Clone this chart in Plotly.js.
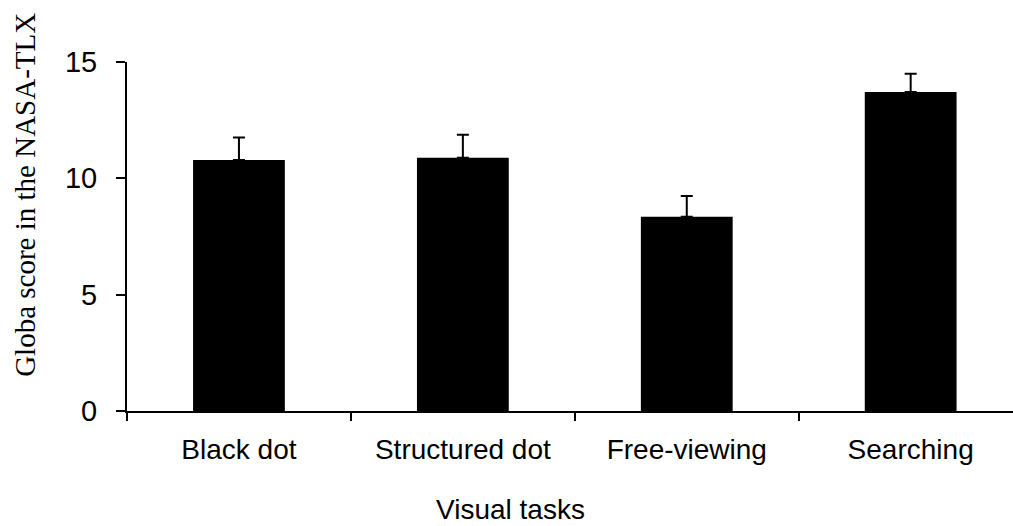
<!DOCTYPE html>
<html>
<head>
<meta charset="utf-8">
<script src="https://cdn.plot.ly/plotly-3.0.1.min.js"></script>
<style>html,body{margin:0;padding:0;background:#fff;}#chart{width:1013px;height:526px;}</style>
</head>
<body>
<div id="chart"></div>
<script>
const categories = ["Black dot", "Structured dot", "Free-viewing", "Searching"];
const meanScores = [10.79, 10.89, 8.35, 13.71];
const errorUpper = [0.96, 0.98, 0.89, 0.78];
const errorLower = [0, 0, 0, 0];
const yTickValues = [0, 5, 10, 15];
const yTitle = "Globa score in the NASA-TLX";
const xTitle = "Visual tasks";

const trace = {
  type: "bar",
  x: categories,
  y: meanScores,
  width: 0.41,
  marker: {color: "#000000", line: {width: 0}},
  error_y: {
    type: "data",
    symmetric: false,
    array: errorUpper,
    arrayminus: errorLower,
    color: "#000000",
    thickness: 2,
    width: 6
  },
  hoverinfo: "none"
};

const layout = {
  width: 1013,
  height: 526,
  autosize: false,
  margin: {l: 127, r: 0, t: 62, b: 115},
  paper_bgcolor: "#ffffff",
  plot_bgcolor: "#ffffff",
  showlegend: false,
  font: {family: "Liberation Sans, Arial, sans-serif", color: "#000000", size: 28},
  xaxis: {
    type: "category",
    range: [-0.5, 3.457],
    showline: true,
    linecolor: "#000000",
    linewidth: 2,
    ticks: "outside",
    tickson: "boundaries",
    ticklen: 8,
    tickwidth: 2,
    tickcolor: "#000000",
    showgrid: false,
    zeroline: false,
    tickfont: {size: 28, family: "Liberation Sans, Arial, sans-serif", color: "#000000"},
    ticklabelstandoff: 12,
    fixedrange: true
  },
  yaxis: {
    range: [0, 15],
    tickvals: yTickValues,
    ticktext: yTickValues.map(String),
    showline: true,
    linecolor: "#000000",
    linewidth: 2,
    ticks: "outside",
    ticklen: 9,
    tickwidth: 2,
    tickcolor: "#000000",
    showgrid: false,
    zeroline: false,
    tickfont: {size: 29, family: "Liberation Sans, Arial, sans-serif", color: "#000000"},
    ticklabelstandoff: 13,
    fixedrange: true
  },
  annotations: [
    {
      text: yTitle,
      xref: "paper", yref: "paper",
      x: -0.1147, y: 0.6205,
      xanchor: "center", yanchor: "middle",
      textangle: -90,
      showarrow: false,
      font: {family: "Liberation Serif, Times New Roman, serif", size: 29, color: "#000000"}
    },
    {
      text: xTitle,
      xref: "paper", yref: "paper",
      x: 0.4334, y: -0.232,
      xanchor: "center", yanchor: "top",
      showarrow: false,
      font: {family: "Liberation Sans, Arial, sans-serif", size: 28, color: "#000000"}
    }
  ]
};

Plotly.newPlot("chart", [trace], layout, {staticPlot: true, displayModeBar: false});
</script>
</body>
</html>
